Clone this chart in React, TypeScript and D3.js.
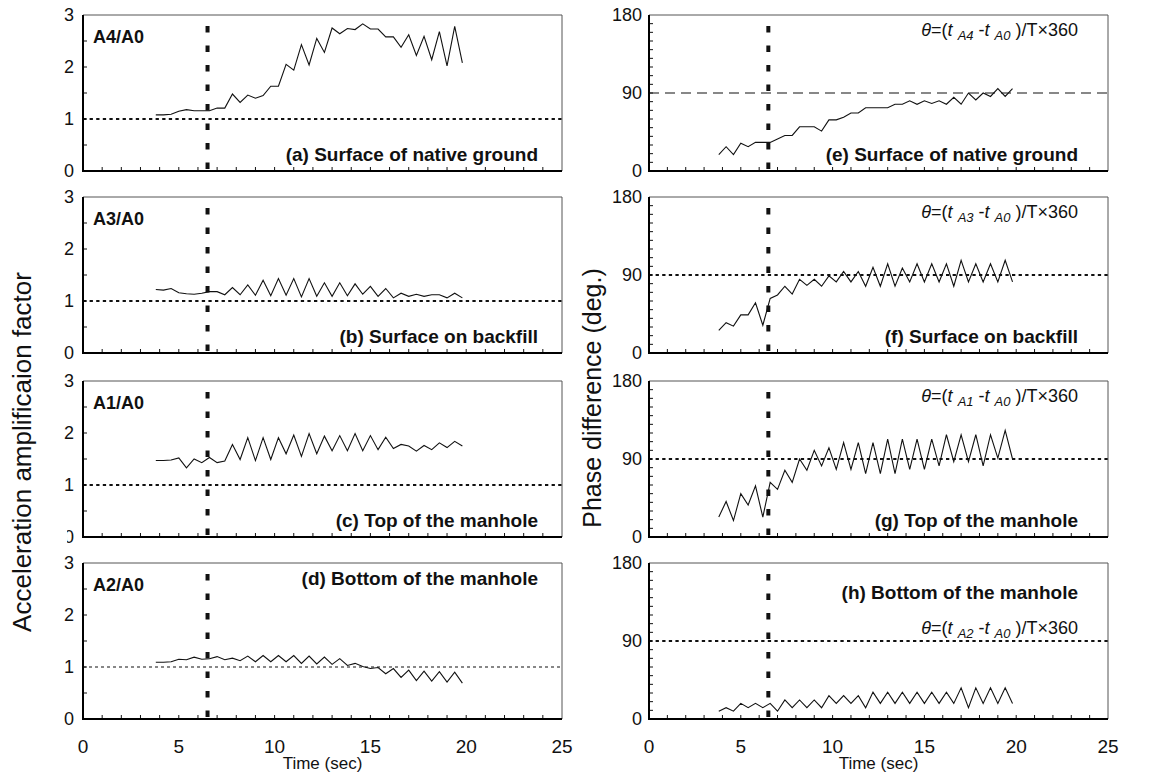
import React from "react";
import * as d3 from "d3";

// Sampling instants (sec) of the amplification / phase estimates
const TIME = [
  3.8, 4.2, 4.6, 5.0, 5.4, 5.8, 6.2, 6.6, 7.0, 7.4, 7.8, 8.2, 8.6, 9.0, 9.4, 9.8,
  10.2, 10.6, 11.0, 11.4, 11.8, 12.2, 12.6, 13.0, 13.4, 13.8, 14.2, 14.6, 15.0,
  15.4, 15.8, 16.2, 16.6, 17.0, 17.4, 17.8, 18.2, 18.6, 19.0, 19.4, 19.8,
];

// Acceleration amplification factors
const AMP_A4 = [1.08,1.08,1.09,1.15,1.18,1.16,1.16,1.16,1.21,1.21,1.48,1.32,1.46,1.40,1.45,1.63,1.63,2.05,1.94,2.43,2.04,2.55,2.28,2.75,2.64,2.74,2.72,2.83,2.73,2.73,2.58,2.58,2.38,2.62,2.22,2.59,2.14,2.68,2.02,2.78,2.08];
const AMP_A3 = [1.22,1.21,1.24,1.16,1.14,1.13,1.15,1.18,1.18,1.12,1.26,1.12,1.31,1.11,1.40,1.10,1.43,1.11,1.43,1.08,1.43,1.09,1.35,1.09,1.35,1.10,1.33,1.13,1.28,1.09,1.24,1.06,1.15,1.09,1.13,1.09,1.12,1.12,1.06,1.15,1.06];
const AMP_A1 = [1.47,1.47,1.48,1.52,1.33,1.50,1.43,1.53,1.43,1.46,1.78,1.49,1.91,1.47,1.91,1.49,1.91,1.60,1.96,1.55,1.99,1.60,1.94,1.66,1.95,1.66,1.99,1.66,1.95,1.68,1.92,1.70,1.78,1.75,1.65,1.76,1.68,1.81,1.72,1.84,1.75];
const AMP_A2 = [1.09,1.09,1.10,1.15,1.14,1.19,1.15,1.16,1.20,1.14,1.17,1.12,1.21,1.10,1.22,1.10,1.22,1.10,1.22,1.07,1.21,1.06,1.19,1.05,1.16,1.03,1.07,1.01,0.97,0.99,0.87,0.97,0.80,0.94,0.74,0.92,0.73,0.91,0.71,0.90,0.69];

// Phase differences (deg.)
const PH_A4 = [19,28,19,32,28,33,33,33,37,41,41,51,51,51,46,59,59,62,67,67,73,73,73,73,77,77,81,77,81,78,81,77,85,77,90,82,90,86,95,86,95];
const PH_A3 = [26,35,31,44,44,58,32,63,67,77,68,85,78,85,77,89,82,94,82,94,77,99,77,103,77,98,82,103,82,103,82,103,77,107,82,103,82,103,82,107,82];
const PH_A1 = [23,41,19,50,37,59,23,63,55,77,63,90,77,100,82,103,78,109,78,109,73,109,73,113,73,113,78,113,78,113,82,118,87,118,87,118,82,118,91,123,90];
const PH_A2 = [9,13,9,18,13,18,13,18,9,22,13,22,13,22,13,27,18,27,18,27,13,31,18,31,18,31,18,31,18,31,18,31,18,36,13,36,18,36,18,36,18];

const X_TICKS = [0, 5, 10, 15, 20, 25];
const AMP_TICKS = [0, 1, 2, 3];
const PHASE_TICKS = [0, 90, 180];
const EVENT_TIME = 6.5;

const SENSORS = ["A4", "A3", "A1", "A2"];
const AMP_SERIES = [AMP_A4, AMP_A3, AMP_A1, AMP_A2];
const PHASE_SERIES = [PH_A4, PH_A3, PH_A1, PH_A2];
const AMP_CAPTIONS = [
  "(a) Surface of native ground",
  "(b) Surface on backfill",
  "(c) Top of the manhole",
  "(d) Bottom of the manhole",
];
const PHASE_CAPTIONS = [
  "(e) Surface of native ground",
  "(f) Surface on backfill",
  "(g) Top of the manhole",
  "(h) Bottom of the manhole",
];

const FONT = "'Liberation Sans', Arial, Helvetica, sans-serif";
const W = 1153;
const H = 772;
const TOPS = [15, 197, 381, 563];
const PANEL_H = 156;
const LEFT = { x0: 83, x1: 562 };
const RIGHT = { x0: 649, x1: 1108 };

type PanelProps = {
  x0: number;
  x1: number;
  top: number;
  yMax: number;
  minorStep: number;
  yTicks: number[];
  values: number[];
  refValue: number;
  refDash: string;
  refWidth: number;
  showXLabels: boolean;
  labelGap: number;
  children?: React.ReactNode;
};

function Panel(p: PanelProps) {
  const bottom = p.top + PANEL_H;
  const x = d3.scaleLinear().domain([0, 25]).range([p.x0, p.x1]);
  const y = d3.scaleLinear().domain([0, p.yMax]).range([bottom, p.top]);
  const path = d3
    .line<number>()
    .x((_, i) => x(TIME[i]))
    .y((d) => y(d))(p.values) as string;
  const xMinor = d3.range(1, 25);
  const yMinor = d3.range(p.minorStep, p.yMax, p.minorStep);
  return (
    <g>
      {/* top and right frame */}
      <line x1={p.x0} x2={p.x1} y1={p.top} y2={p.top} stroke="#555" strokeWidth={1} />
      <line x1={p.x1} x2={p.x1} y1={p.top} y2={bottom} stroke="#555" strokeWidth={1} />
      {/* reference level */}
      <line
        x1={p.x0}
        x2={p.x1}
        y1={y(p.refValue)}
        y2={y(p.refValue)}
        stroke="#111"
        strokeWidth={p.refWidth}
        strokeDasharray={p.refDash}
      />
      {/* event marker */}
      <line
        x1={x(EVENT_TIME)}
        x2={x(EVENT_TIME)}
        y1={p.top + 11}
        y2={bottom}
        stroke="#111"
        strokeWidth={4}
        strokeDasharray="6.5,13"
      />
      <path d={path} fill="none" stroke="#111" strokeWidth={1.1} strokeLinejoin="miter" />
      {/* ticks */}
      {xMinor.map((t) => (
        <line key={"xt" + t} x1={x(t)} x2={x(t)} y1={bottom} y2={bottom - 4} stroke="#111" strokeWidth={1} />
      ))}
      {yMinor.map((v) => (
        <line key={"yt" + v} x1={p.x0} x2={p.x0 + 4} y1={y(v)} y2={y(v)} stroke="#111" strokeWidth={1} />
      ))}
      {/* axis lines */}
      <line x1={p.x0} x2={p.x0} y1={p.top} y2={bottom + 1} stroke="#000" strokeWidth={2} />
      <line x1={p.x0 - 1} x2={p.x1} y1={bottom} y2={bottom} stroke="#000" strokeWidth={2} />
      {/* tick labels */}
      {p.yTicks.map((v) => (
        <text
          key={"yl" + v}
          x={p.x0 - p.labelGap}
          y={y(v)}
          dy="0.36em"
          textAnchor="end"
          fontSize={18}
          fill="#111"
        >
          {v}
        </text>
      ))}
      {p.showXLabels &&
        X_TICKS.map((t) => (
          <text key={"xl" + t} x={x(t)} y={bottom + 34} textAnchor="middle" fontSize={19} fill="#111">
            {t}
          </text>
        ))}
      {p.showXLabels && (
        <text x={x(12.5)} y={bottom + 50} textAnchor="middle" fontSize={17} fill="#111">
          Time (sec)
        </text>
      )}
      {p.children}
    </g>
  );
}

function Formula({ x, y, sensor }: { x: number; y: number; sensor: string }) {
  return (
    <text x={x} y={y} textAnchor="end" fontSize={18} fill="#111" style={{ whiteSpace: "pre" }}>
      <tspan fontStyle="italic">θ</tspan>
      <tspan>=(</tspan>
      <tspan fontStyle="italic">t </tspan>
      <tspan fontStyle="italic" fontSize={13} dy={4}>{sensor}</tspan>
      <tspan dy={-4}> -</tspan>
      <tspan fontStyle="italic">t </tspan>
      <tspan fontStyle="italic" fontSize={13} dy={4}>A0</tspan>
      <tspan dy={-4}> )/T×360</tspan>
    </text>
  );
}

export default function App() {
  return (
    <svg
      width={W}
      height={H}
      viewBox={`0 0 ${W} ${H}`}
      style={{ position: "absolute", left: 0, top: 0, background: "#fff" }}
      fontFamily={FONT}
    >
      <rect x={0} y={0} width={W} height={H} fill="#fff" />
      {/* left column: amplification */}
      {SENSORS.map((s, i) => {
        const top = TOPS[i];
        const bottom = top + PANEL_H;
        const captionAtTop = i === 3;
        return (
          <Panel
            key={"amp" + s}
            x0={LEFT.x0}
            x1={LEFT.x1}
            top={top}
            yMax={3}
            minorStep={0.5}
            yTicks={AMP_TICKS}
            values={AMP_SERIES[i]}
            refValue={1}
            refDash={i === 3 ? "3,3" : "3.3,3.3"}
            refWidth={i === 3 ? 1.1 : 2}
            showXLabels={i === 3}
            labelGap={9}
          >
            <text x={LEFT.x0 + 10} y={top + 28} fontSize={18} fontWeight="bold" fill="#111">
              {s}/A0
            </text>
            <text
              x={LEFT.x1 - 24}
              y={captionAtTop ? top + 22 : bottom - 10}
              textAnchor="end"
              fontSize={19}
              fontWeight="bold"
              fill="#111"
            >
              {AMP_CAPTIONS[i]}
            </text>
          </Panel>
        );
      })}
      {/* the lower chart's box overlaps the "0" label above it */}
      <rect x={58} y={TOPS[2] + PANEL_H - 9} width={9} height={18} fill="#fff" />

      {/* right column: phase difference */}
      {SENSORS.map((s, i) => {
        const top = TOPS[i];
        const bottom = top + PANEL_H;
        const last = i === 3;
        return (
          <Panel
            key={"ph" + s}
            x0={RIGHT.x0}
            x1={RIGHT.x1}
            top={top}
            yMax={180}
            minorStep={10}
            yTicks={PHASE_TICKS}
            values={PHASE_SERIES[i]}
            refValue={90}
            refDash={i === 0 ? "10,6" : "3.3,3.3"}
            refWidth={i === 0 ? 1.1 : 2}
            showXLabels={last}
            labelGap={7}
          >
            <Formula x={RIGHT.x1 - 30} y={last ? top + 71 : top + 21} sensor={s} />
            <text
              x={RIGHT.x1 - 30}
              y={last ? top + 36 : bottom - 10}
              textAnchor="end"
              fontSize={19}
              fontWeight="bold"
              fill="#111"
            >
              {PHASE_CAPTIONS[i]}
            </text>
          </Panel>
        );
      })}

      {/* axis titles */}
      <text
        transform={`translate(31, 452) rotate(-90)`}
        textAnchor="middle"
        fontSize={26}
        fill="#111"
      >
        Acceleration amplificaion factor
      </text>
      <text
        transform={`translate(601, 398) rotate(-90)`}
        textAnchor="middle"
        fontSize={25}
        fill="#111"
      >
        Phase difference (deg.)
      </text>
    </svg>
  );
}
